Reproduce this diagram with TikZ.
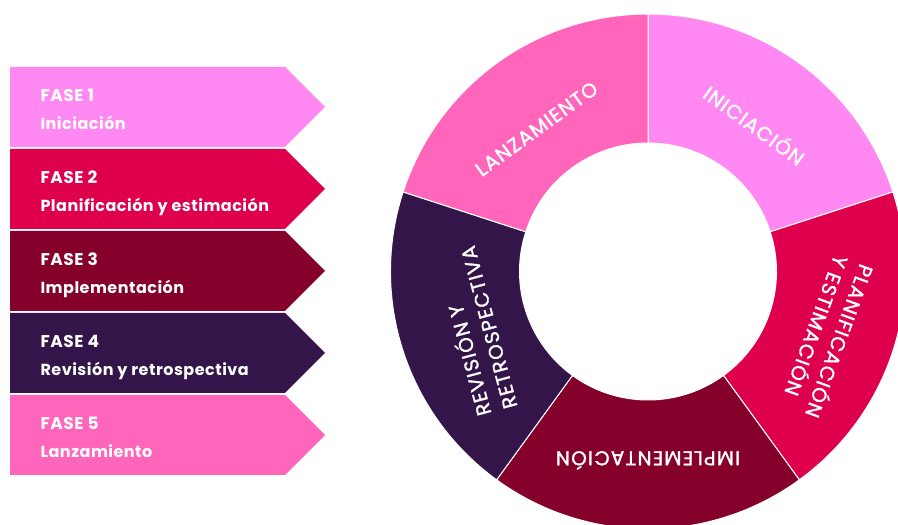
\documentclass[tikz,border=0pt]{standalone}
\usepackage{fontspec}
\setmainfont{Poppins}
\newfontfamily\tagfont{Poppins}[LetterSpace=3]
\newfontfamily\ringfont{Poppins}[LetterSpace=6,FakeBold=1.5]
\usetikzlibrary{positioning}
\definecolor{faseuno}{HTML}{FF88F2}
\definecolor{fasedos}{HTML}{DE004C}
\definecolor{fasetres}{HTML}{85002A}
\definecolor{fasecuatro}{HTML}{33154A}
\definecolor{fasecinco}{HTML}{FF66BB}
\newcommand{\ringR}{257.5}
\newcommand{\ringr}{128.5}
\tikzset{
  tagtitle/.style={anchor=base west,text=white,font=\fontsize{17}{18}\selectfont\tagfont\bfseries},
  tagname/.style={anchor=base west,text=white,font=\fontsize{16}{18}\selectfont\tagfont\bfseries},
  ringtext/.style={text=white,align=left,inner sep=0pt,font=\fontsize{20}{27}\selectfont\ringfont}
}

\begin{document}
\begin{tikzpicture}[x=1pt,y=1pt]
\useasboundingbox (0,0) rectangle (898,525);
% === LEFT PANEL: phase tags ===
\foreach \i/\col/\nombre in {1/faseuno/Iniciación,2/fasedos/Planificación y estimación,3/fasetres/Implementación,4/fasecuatro/Revisión y retrospectiva,5/fasecinco/Lanzamiento}{
    \pgfmathsetmacro{\ytop}{458-(\i-1)*82}
    \fill[\col] (10,\ytop) -- (285,\ytop) -- (325,\ytop-40) -- (285,\ytop-80) -- (10,\ytop-80) -- cycle;
    \node[tagtitle] (fase\i) at (37,\ytop-35) {FASE \i};
    \node[tagname] (nombre\i) at (37,\ytop-63) {\nombre};
}
% === RIGHT PANEL: phase ring ===
\begin{scope}[shift={(648,253.5)}]
    \foreach \a/\col in {90/faseuno,18/fasedos,-54/fasetres,-126/fasecuatro,162/fasecinco}{
        \pgfmathsetmacro{\b}{\a-72}
        \fill[\col,draw=white,line width=1] (\a:\ringR) arc[start angle=\a,end angle=\b,radius=\ringR]
            -- (\b:\ringr) arc[start angle=\b,end angle=\a,radius=\ringr] -- cycle;
    }
    \node[ringtext,rotate=36] (lanzamiento) at (128:181) {LANZAMIENTO};
    \node[ringtext,rotate=-36] (iniciacion) at (54:182) {INICIACIÓN};
    \node[ringtext,rotate=-110] (planificacion) at (-20:192) {PLANIFICACIÓN\\Y ESTIMACIÓN};
    \node[ringtext,rotate=180] (implementacion) at (-90:189) {IMPLEMENTACIÓN};
    \node[ringtext,rotate=105] (revision) at (199:184) {REVISIÓN Y\\RETROSPECTIVA};
\end{scope}
\end{tikzpicture}
\end{document}
